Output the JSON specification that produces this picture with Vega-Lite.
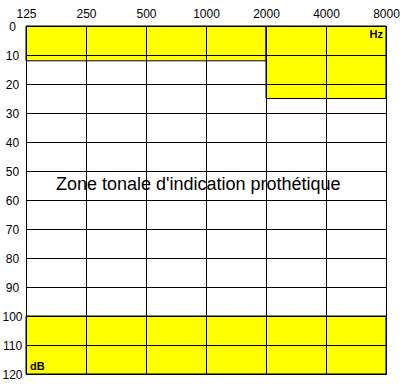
{
  "$schema": "https://vega.github.io/schema/vega-lite/v6.json",
  "width": 360,
  "height": 348,
  "autosize": {"type": "none"},
  "padding": {"left": 26, "top": 26, "right": 17, "bottom": 16},
  "background": "white",
  "config": {
    "view": {"stroke": "black", "strokeWidth": 1},
    "font": "Liberation Sans",
    "axis": {"labelOverlap": false}
  },
  "datasets": {
    "zones": [
      {"f1": 125, "f2": 2000, "d1": 0, "d2": 12},
      {"f1": 2000, "f2": 8000, "d1": 0, "d2": 25},
      {"f1": 125, "f2": 8000, "d1": 100, "d2": 120}
    ],
    "labels": [
      {"freq": 914, "db": 54.7, "label": "Zone tonale d'indication prothétique", "kind": "title"},
      {"freq": 8000, "db": 3, "label": "Hz", "kind": "hz"},
      {"freq": 125, "db": 117.5, "label": "dB", "kind": "db"}
    ]
  },
  "encoding": {
    "x": {
      "field": "f1", "type": "quantitative",
      "scale": {"type": "log", "domain": [125, 8000], "base": 2, "nice": false},
      "axis": {
        "orient": "top", "title": null, "values": [125, 250, 500, 1000, 2000, 4000, 8000],
        "ticks": false, "domain": false, "grid": true, "gridColor": "black", "gridOpacity": 1, "gridWidth": 1,
        "labelFontSize": 12, "labelColor": "black", "labelBaseline": "middle", "labelAlign": "center",
        "labelPadding": 13, "labelFlush": false, "labelOverlap": false, "zindex": 1, "format": "d"
      }
    },
    "y": {
      "field": "d1", "type": "quantitative",
      "scale": {"domain": [0, 120], "reverse": true, "nice": false},
      "axis": {
        "title": null, "values": [0, 10, 20, 30, 40, 50, 60, 70, 80, 90, 100, 110, 120],
        "ticks": false, "domain": false, "grid": true, "gridColor": "black", "gridOpacity": 1, "gridWidth": 1,
        "labelFontSize": 12, "labelColor": "black", "labelAlign": "center", "labelBaseline": "middle",
        "labelPadding": 14, "labelFlush": false, "labelOverlap": false, "zindex": 1
      }
    }
  },
  "layer": [
    {
      "data": {"name": "zones"},
      "mark": {"type": "rect", "fill": "#ffff00", "stroke": "black", "strokeWidth": 1},
      "encoding": {
        "x2": {"field": "f2"},
        "y2": {"field": "d2"}
      }
    },
    {
      "data": {"name": "labels"},
      "transform": [{"filter": "datum.kind === 'title'"}],
      "mark": {"type": "text", "fontSize": 18, "color": "black", "align": "center", "baseline": "middle"},
      "encoding": {
        "x": {"field": "freq", "type": "quantitative"},
        "y": {"field": "db", "type": "quantitative"},
        "text": {"field": "label"}
      }
    },
    {
      "data": {"name": "labels"},
      "transform": [{"filter": "datum.kind === 'hz'"}],
      "mark": {"type": "text", "fontSize": 11, "fontWeight": "bold", "color": "black", "align": "right", "baseline": "middle", "dx": -3},
      "encoding": {
        "x": {"field": "freq", "type": "quantitative"},
        "y": {"field": "db", "type": "quantitative"},
        "text": {"field": "label"}
      }
    },
    {
      "data": {"name": "labels"},
      "transform": [{"filter": "datum.kind === 'db'"}],
      "mark": {"type": "text", "fontSize": 11, "fontWeight": "bold", "color": "black", "align": "left", "baseline": "middle", "dx": 4},
      "encoding": {
        "x": {"field": "freq", "type": "quantitative"},
        "y": {"field": "db", "type": "quantitative"},
        "text": {"field": "label"}
      }
    }
  ]
}
